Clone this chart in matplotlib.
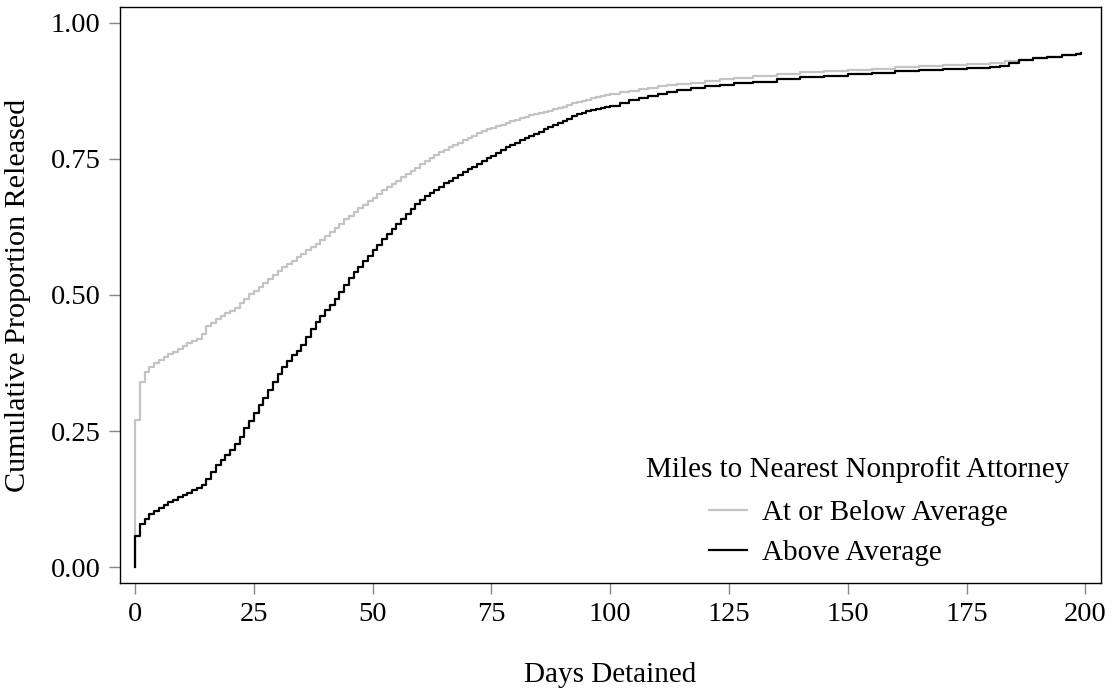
import matplotlib
matplotlib.use("Agg")
import matplotlib.pyplot as plt

plt.rcParams['font.family'] = ['Liberation Serif', 'DejaVu Serif']

# ---- data ----
below_days = list(range(0, 101)) + [102, 104, 106, 108, 110, 112, 114, 117, 120, 123, 126, 130, 135,
                                    140, 145, 150, 155, 160, 165, 170, 175, 180, 183, 186, 189, 192,
                                    195, 198, 199]
below_vals = [0.270, 0.341, 0.358, 0.368, 0.375, 0.381, 0.386, 0.391, 0.396, 0.401,
              0.406, 0.411, 0.415, 0.420, 0.428, 0.443, 0.449, 0.455, 0.461, 0.466,
              0.471, 0.477, 0.485, 0.493, 0.501, 0.508, 0.515, 0.522, 0.530, 0.537,
              0.544, 0.551, 0.557, 0.563, 0.569, 0.575, 0.582, 0.588, 0.594, 0.601,
              0.608, 0.616, 0.623, 0.631, 0.639, 0.646, 0.652, 0.659, 0.665, 0.672,
              0.678, 0.685, 0.692, 0.698, 0.704, 0.710, 0.716, 0.722, 0.728, 0.734,
              0.740, 0.746, 0.751, 0.757, 0.762, 0.767, 0.772, 0.776, 0.780, 0.784,
              0.788, 0.792, 0.797, 0.801, 0.804, 0.807, 0.810, 0.813, 0.816, 0.819,
              0.822, 0.825, 0.827, 0.830, 0.832, 0.834, 0.836, 0.838, 0.841, 0.843,
              0.846, 0.849, 0.852, 0.854, 0.857, 0.859, 0.861, 0.864, 0.866, 0.868,
              0.870,
              0.873, 0.875, 0.878, 0.880, 0.883, 0.885, 0.888, 0.890, 0.893, 0.896,
              0.898, 0.902, 0.906, 0.909, 0.912, 0.914, 0.916, 0.919, 0.921, 0.923,
              0.925, 0.927, 0.929, 0.932, 0.935, 0.938, 0.941, 0.943, 0.944]

above_days = list(range(0, 101)) + [102, 104, 106, 108, 110, 112, 114, 117, 120, 123, 126, 130, 135,
                                    140, 145, 150, 155, 160, 165, 170, 175, 180, 182, 184, 186, 189,
                                    192, 195, 198, 199]
above_vals = [0.057, 0.079, 0.089, 0.098, 0.104, 0.109, 0.114, 0.119, 0.124, 0.128,
              0.133, 0.137, 0.141, 0.145, 0.151, 0.162, 0.175, 0.187, 0.197, 0.206,
              0.215, 0.226, 0.240, 0.255, 0.268, 0.283, 0.297, 0.311, 0.326, 0.340,
              0.354, 0.367, 0.378, 0.389, 0.398, 0.408, 0.422, 0.437, 0.451, 0.462,
              0.472, 0.482, 0.492, 0.505, 0.518, 0.531, 0.542, 0.552, 0.562, 0.572,
              0.582, 0.592, 0.602, 0.612, 0.621, 0.631, 0.640, 0.649, 0.658, 0.667,
              0.674, 0.681, 0.687, 0.693, 0.699, 0.705, 0.710, 0.715, 0.720, 0.726,
              0.731, 0.736, 0.741, 0.746, 0.751, 0.756, 0.761, 0.766, 0.771, 0.776,
              0.780, 0.784, 0.788, 0.792, 0.796, 0.800, 0.804, 0.808, 0.812, 0.816,
              0.820, 0.824, 0.828, 0.832, 0.835, 0.838, 0.840, 0.842, 0.844, 0.846,
              0.848,
              0.853, 0.858, 0.862, 0.866, 0.870, 0.873, 0.876, 0.880, 0.883, 0.886,
              0.889, 0.892, 0.896, 0.900, 0.903, 0.906, 0.908, 0.911, 0.913, 0.915,
              0.917, 0.918, 0.921, 0.927, 0.932, 0.935, 0.938, 0.941, 0.943, 0.944]

series_labels = ["At or Below Average", "Above Average"]
legend_title = "Miles to Nearest Nonprofit Attorney"
x_ticks = [0, 25, 50, 75, 100, 125, 150, 175, 200]
y_ticks = [0.00, 0.25, 0.50, 0.75, 1.00]
y_ticklabels = ["0.00", "0.25", "0.50", "0.75", "1.00"]

fig = plt.figure(figsize=(11.12, 6.94), dpi=100)
ax = fig.add_axes([0.1079, 0.16, 0.8822, 0.8299])

ax.plot([0] + below_days, [0] + below_vals, drawstyle='steps-post', color='#c4c4c4', lw=1.6,
        label=series_labels[0])
ax.plot([0] + above_days, [0] + above_vals, drawstyle='steps-post', color='#000000', lw=1.6,
        label=series_labels[1])

ax.set_xlim(-3.2, 203.3)
ax.set_ylim(-0.029, 1.029)
ax.set_xticks(x_ticks)
ax.set_xticklabels([str(t) for t in x_ticks])
ax.set_yticks(y_ticks)
ax.set_yticklabels(y_ticklabels)
ax.tick_params(axis='both', direction='out', length=8, width=1, color='#888888',
               labelsize=20.5, labelcolor='black', pad=6)
for sp in ax.spines.values():
    sp.set_color('black')
    sp.set_linewidth(1.0)

ax.set_xlabel("Days Detained", fontsize=21, labelpad=25)
ax.set_ylabel("Cumulative Proportion Released", fontsize=21.7, labelpad=14)

leg = ax.legend(title=legend_title, loc='lower right', bbox_to_anchor=(0.995, -0.016),
                frameon=False, fontsize=21, title_fontsize=21, handlelength=1.3,
                handletextpad=0.5, labelspacing=0.45)
leg._legend_box.sep = 12

fig.savefig("out.png", dpi=100)
